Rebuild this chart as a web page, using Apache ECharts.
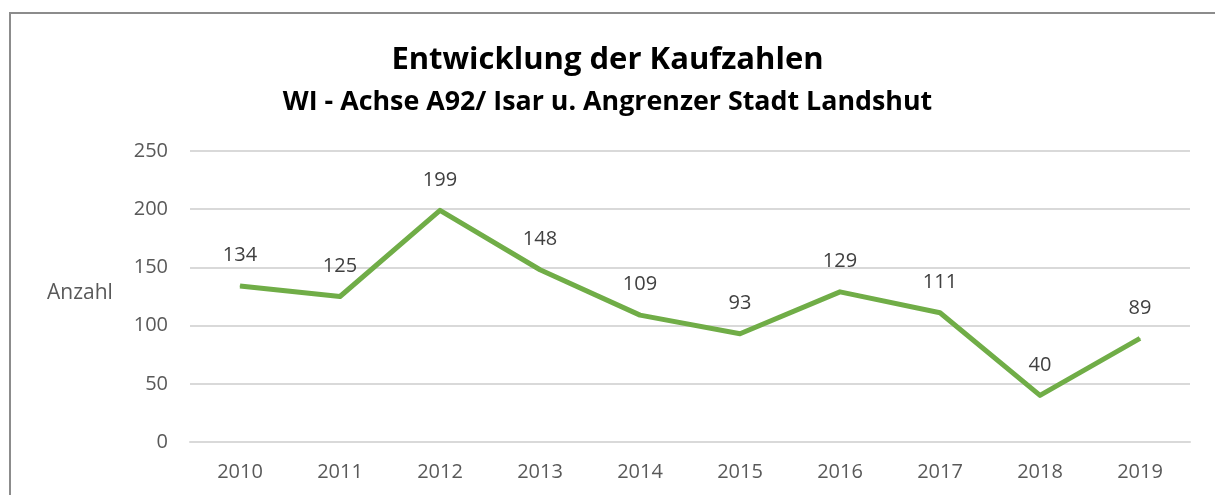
<!DOCTYPE html>
<html>
<head>
<meta charset="utf-8">
<script src="https://cdn.jsdelivr.net/npm/echarts@6/dist/echarts.min.js"></script>
<style>
  html, body { margin: 0; padding: 0; background: #fff; }
  #chart { width: 1215px; height: 495px; }
</style>
</head>
<body>
<div id="chart"></div>
<script>
// Jahre auf der x-Achse
const years = ['2010', '2011', '2012', '2013', '2014', '2015', '2016', '2017', '2018', '2019']
// Anzahl der Käufe
const counts = [134, 125, 199, 148, 109, 93, 129, 111, 40, 89]
// y-Achse
const yTicks = [0, 50, 100, 150, 200, 250]

const chart = echarts.init(document.getElementById('chart'))

const font = '"Open Sans", sans-serif'

chart.setOption({
  animation: false,
  textStyle: { fontFamily: font },
  // Rahmen oben und links
  graphic: [
    {
      type: 'rect',
      shape: { x: 10, y: 13, width: 1400, height: 600 },
      style: { fill: 'none', stroke: '#8c8c8c', lineWidth: 2 },
      silent: true
    },
    {
      type: 'text',
      left: 47,
      top: 283,
      style: { text: 'Anzahl', fontSize: 21, fill: '#595959', fontFamily: font }
    }
  ],
  title: {
    text: 'Entwicklung der Kaufzahlen',
    subtext: 'WI - Achse A92/ Isar u. Angrenzer Stadt Landshut',
    left: 'center',
    top: 40,
    itemGap: 13,
    textStyle: { fontSize: 31, fontWeight: 'bold', color: '#000', fontFamily: font },
    subtextStyle: { fontSize: 26.8, fontWeight: 'bold', color: '#000', fontFamily: font }
  },
  grid: { left: 190, right: 25, top: 151, bottom: 53 },
  xAxis: {
    type: 'category',
    data: years,
    boundaryGap: true,
    axisLine: { lineStyle: { color: '#d9d9d9', width: 2 } },
    axisTick: { show: false },
    axisLabel: { color: '#595959', fontSize: 20, margin: 20, fontFamily: font }
  },
  yAxis: {
    type: 'value',
    min: yTicks[0],
    max: yTicks[yTicks.length - 1],
    interval: 50,
    axisLine: { show: false },
    axisTick: { show: false },
    splitLine: { lineStyle: { color: '#d9d9d9', width: 2 } },
    axisLabel: { color: '#595959', fontSize: 20, margin: 22, fontFamily: font }
  },
  series: [{
    type: 'line',
    data: counts,
    symbol: 'circle',
    symbolSize: 1,
    itemStyle: { color: '#70ad47' },
    lineStyle: { color: '#70ad47', width: 5, join: 'round' },
    label: {
      show: true,
      position: 'top',
      distance: 20,
      color: '#404040',
      fontSize: 20,
      fontFamily: font
    }
  }]
})
</script>
</body>
</html>
